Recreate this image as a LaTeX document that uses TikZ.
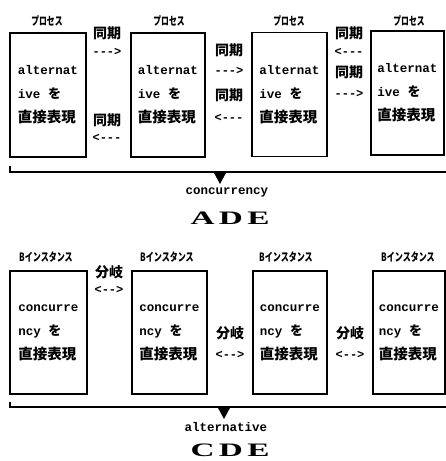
\documentclass[tikz,border=0pt]{standalone}
\usepackage{fontspec}
\newfontfamily\jpfont{Noto Sans CJK JP}
\newfontfamily\mofont{Liberation Mono}
\newfontfamily\sefont{Liberation Serif}
\newcommand{\jb}[1]{{\jpfont\fontsize{14.5}{24}\selectfont #1}}
\newcommand{\jr}[1]{{\jpfont\fontsize{13}{24}\selectfont #1}}
\tikzset{
  box/.style={draw, line width=1.5pt, inner sep=0pt, align=left,
    font=\mofont\bfseries\fontsize{12.5}{24}\selectfont},
  proc/.style={inner sep=0pt, font=\jpfont\bfseries\fontsize{11.5}{11.5}\selectfont},
  sync/.style={inner sep=0pt, font=\jpfont\bfseries\fontsize{14}{14}\selectfont},
  arr/.style={inner sep=0pt, font=\mofont\bfseries\fontsize{12}{12}\selectfont},
  captext/.style={inner sep=0pt, font=\mofont\bfseries\fontsize{12.5}{12.5}\selectfont},
  titletext/.style={inner sep=0pt, anchor=base, font=\sefont\bfseries\fontsize{19}{19}\selectfont},
  bracket/.style={line width=1.4pt}
}
\begin{document}
\begin{tikzpicture}[x=1pt,y=-1pt]
\useasboundingbox[fill=white] (0,0) rectangle (446,461);
% ---------- top row (ADE) ----------
\node[proc] (p1) at (47,21) {\scalebox{0.68}[1]{プロセス}};
\node[proc] (p2) at (169,21) {\scalebox{0.68}[1]{プロセス}};
\node[proc] (p3) at (289,21) {\scalebox{0.68}[1]{プロセス}};
\node[proc] (p4) at (409,21) {\scalebox{0.68}[1]{プロセス}};
\node[box, minimum width=76pt, minimum height=124pt] (a1) at (48,95) {alternat\\ive \jr{を}\\\jb{直接表現}};
\node[box, minimum width=74pt, minimum height=124pt] (a2) at (168,95) {alternat\\ive \jr{を}\\\jb{直接表現}};
\node[box, minimum width=75pt, minimum height=124pt] (a3) at (289.5,94.5) {alternat\\ive \jr{を}\\\jb{直接表現}};
\node[box, minimum width=73pt, minimum height=124pt] (a4) at (407.5,93) {alternat\\ive \jr{を}\\\jb{直接表現}};
% sync labels
\node[sync] (s12a) at (107,33) {同期};
\node[arr]  (r12a) at (107,52) {--{}-{}>};
\node[sync] (s12b) at (107,120) {同期};
\node[arr]  (r12b) at (107,138) {<-{}-{}-};
\node[sync] (s23a) at (229,50) {同期};
\node[arr]  (r23a) at (229,71) {--{}-{}>};
\node[sync] (s23b) at (229,95) {同期};
\node[arr]  (r23b) at (229,118) {<-{}-{}-};
\node[sync] (s34a) at (349,33) {同期};
\node[arr]  (r34a) at (349,52) {<-{}-{}-};
\node[sync] (s34b) at (349,72) {同期};
\node[arr]  (r34b) at (349,94) {--{}-{}>};
% bracket
\coordinate (ta) at (10,166);
\coordinate (tb) at (10,172);
\coordinate (tc) at (446,172);
\draw[bracket] (ta) -- (tb) -- (tc);
\fill (213.5,172) -- (226.5,172) -- (220,184) -- cycle;
\node[captext] (cc) at (227,192) {concurrency};
\node[titletext] (ade) at (230,224.5) {\scalebox{1.75}[1]{A\hspace{2.5pt}D\hspace{2.5pt}E}};
% ---------- bottom row (CDE) ----------
\node[proc] (b1) at (46,257) {\scalebox{0.7}[1]{Bインスタンス}};
\node[proc] (b2) at (167,257) {\scalebox{0.7}[1]{Bインスタンス}};
\node[proc] (b3) at (286,257) {\scalebox{0.7}[1]{Bインスタンス}};
\node[proc] (b4) at (408,257) {\scalebox{0.7}[1]{Bインスタンス}};
\node[box, minimum width=77pt, minimum height=123pt] (c1) at (48.5,332.5) {concurre\\ncy \jr{を}\\\jb{直接表現}};
\node[box, minimum width=75pt, minimum height=123pt] (c2) at (169.5,332.5) {concurre\\ncy \jr{を}\\\jb{直接表現}};
\node[box, minimum width=74pt, minimum height=123pt] (c3) at (290,332.5) {concurre\\ncy \jr{を}\\\jb{直接表現}};
\node[box, minimum width=72pt, minimum height=123pt] (c4) at (409,332.5) {concurre\\ncy \jr{を}\\\jb{直接表現}};
\node[sync] (f12) at (109,272) {分岐};
\node[arr]  (g12) at (109,290) {<-{}->};
\node[sync] (f23) at (230,333) {分岐};
\node[arr]  (g23) at (230,355) {<-{}->};
\node[sync] (f34) at (350,333) {分岐};
\node[arr]  (g34) at (350,355) {<-{}->};
\coordinate (ba) at (10,402);
\coordinate (bb) at (10,407);
\coordinate (bc) at (446,407);
\draw[bracket] (ba) -- (bb) -- (bc);
\fill (217.5,407) -- (230.5,407) -- (224,419) -- cycle;
\node[captext] (alt) at (226,427) {alternative};
\node[titletext] (cde) at (230,456) {\scalebox{1.75}[1]{C\hspace{2.5pt}D\hspace{2.5pt}E}};
\end{tikzpicture}
\end{document}
